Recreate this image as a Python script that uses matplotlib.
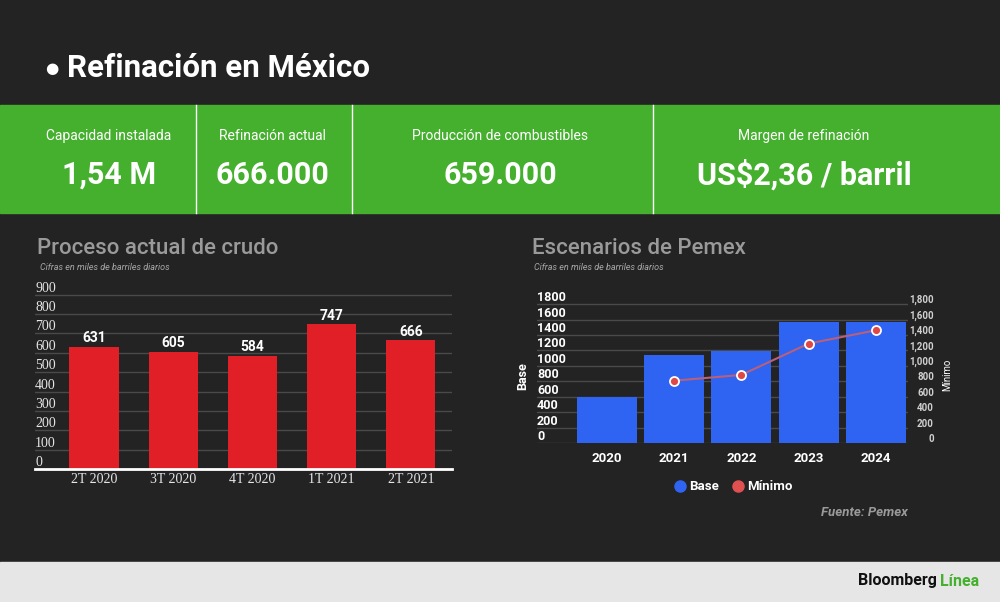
import matplotlib
matplotlib.use("Agg")
import matplotlib.pyplot as plt
from matplotlib.lines import Line2D

# Data
kpi_labels = ["Capacidad instalada", "Refinación actual", "Producción de combustibles", "Margen de refinación"]
kpi_values = ["1,54 M", "666.000", "659.000", "US$2,36 / barril"]

crudo_cats = ["2T 2020", "3T 2020", "4T 2020", "1T 2021", "2T 2021"]
crudo_vals = [631, 605, 584, 747, 666]
crudo_ticks = [0, 100, 200, 300, 400, 500, 600, 700, 800, 900]

years = ["2020", "2021", "2022", "2023", "2024"]
base_vals = [600, 1138, 1198, 1569, 1569]
min_years = ["2021", "2022", "2023", "2024"]
min_vals = [741, 815, 1220, 1392]
pemex_ticks = [0, 200, 400, 600, 800, 1000, 1200, 1400, 1600, 1800]

# Colours
BG = "#232323"
GREEN = "#44b02d"
RED = "#e11f26"
BLUE = "#2f63f2"
GRID = "#4a4a4a"

plt.rcParams["font.family"] = ["Roboto", "DejaVu Sans"]

W, H = 1000, 602
fig = plt.figure(figsize=(W / 100, H / 100), dpi=100)
fig.patch.set_facecolor(BG)


def box(x0, y0, x1, y1):
    # pixel box (top-left origin) -> figure fraction rect
    return [x0 / W, 1 - y1 / H, (x1 - x0) / W, (y1 - y0) / H]


def fx(x):
    return x / W


def fy(y):
    return 1 - y / H


# Header
fig.text(fx(52), fy(69), "●", color="white", fontsize=11, ha="center", va="center")
fig.text(fx(67), fy(68), "Refinación en México", color="white", fontsize=22.5,
         fontweight="bold", ha="left", va="center")

# Green KPI band
fig.patches.append(plt.Rectangle((0, fy(213)), 1, (213 - 105) / H, transform=fig.transFigure,
                                 color=GREEN, zorder=0))
for xd in [196, 352, 653]:
    fig.lines.append(Line2D([fx(xd), fx(xd)], [fy(213), fy(105)], transform=fig.transFigure,
                            color="white", lw=1))
kpi_x = [109, 272, 500, 804]
for x, lab, val in zip(kpi_x, kpi_labels, kpi_values):
    fig.text(fx(x), fy(136), lab, color="white", fontsize=10, ha="center", va="center")
    fig.text(fx(x), fy(175), val, color="white", fontsize=22, fontweight="bold",
             ha="center", va="center")

# Bottom band
fig.patches.append(plt.Rectangle((0, 0), 1, (602 - 562) / H, transform=fig.transFigure,
                                 color="#e6e6e6", zorder=0))
fig.text(fx(937), fy(581), "Bloomberg", color="#111111", fontsize=11.5, fontweight="bold",
         ha="right", va="center")
fig.text(fx(940), fy(581), "Línea", color=GREEN, fontsize=11.5, fontweight="bold",
         ha="left", va="center")

# ---------------- Left chart: Proceso actual de crudo ----------------
fig.text(fx(37), fy(249), "Proceso actual de crudo", color="#9a9a9a", fontsize=16,
         fontweight="medium", ha="left", va="center")
fig.text(fx(40), fy(267), "Cifras en miles de barriles diarios", color="#a8a8a8",
         fontsize=6.5, style="italic", ha="left", va="center")

ax1 = fig.add_axes(box(35, 285, 452, 469))
ax1.set_facecolor("none")
x1 = list(range(len(crudo_cats)))
bars = ax1.bar(x1, crudo_vals, width=0.62, color=RED, zorder=2)
ax1.bar_label(bars, labels=[str(v) for v in crudo_vals], padding=1, color="white",
              fontsize=10, fontweight="bold")
ax1.set_xlim(-0.745, 4.52)
ax1.set_ylim(0, 950)
ax1.set_yticks(crudo_ticks)
ax1.set_xticks(x1)
ax1.set_xticklabels(crudo_cats, family="Liberation Serif", fontsize=10, color="#e6e6e6")
ax1.set_yticklabels([str(t) for t in crudo_ticks], family="Liberation Serif", fontsize=10,
                    color="#e6e6e6")
ax1.tick_params(axis="y", length=0, pad=0)
ax1.tick_params(axis="x", length=0, pad=3)
for lbl in ax1.get_yticklabels():
    lbl.set_ha("left")
    lbl.set_va("bottom")
ax1.grid(axis="y", color=GRID, lw=1, zorder=0)
for s in ["top", "right", "left"]:
    ax1.spines[s].set_visible(False)
ax1.spines["bottom"].set_color("white")
ax1.spines["bottom"].set_linewidth(2)
ax1.spines["bottom"].set_zorder(3)

# ---------------- Right chart: Escenarios de Pemex ----------------
fig.text(fx(532), fy(249), "Escenarios de Pemex", color="#9a9a9a", fontsize=16,
         fontweight="medium", ha="left", va="center")
fig.text(fx(534), fy(267), "Cifras en miles de barriles diarios", color="#a8a8a8",
         fontsize=6.5, style="italic", ha="left", va="center")

ax2 = fig.add_axes(box(537, 296.3, 908, 443.3))
ax2.set_facecolor("none")
x2 = list(range(len(years)))
ax2.bar(x2, base_vals, width=0.893, color=BLUE, zorder=2)
ax2.set_xlim(-1.04, 4.48)
ax2.set_ylim(0, 1900)
ax2.set_yticks(pemex_ticks)
ax2.set_yticklabels([str(t) for t in pemex_ticks], fontsize=9, fontweight="bold", color="white")
ax2.tick_params(axis="y", length=0, pad=0)
for lbl in ax2.get_yticklabels():
    lbl.set_ha("left")
    lbl.set_va("bottom")
ax2.set_xticks(x2)
ax2.set_xticklabels(years, fontsize=9.5, fontweight="bold", color="white")
ax2.tick_params(axis="x", length=0, pad=6)
ax2.grid(axis="y", color=GRID, lw=1, zorder=0)
for s in ax2.spines.values():
    s.set_visible(False)

ax2r = ax2.twinx()
ax2r.set_ylim(-68.5, 1831.5)
min_x = [years.index(y) for y in min_years]
ax2r.plot(min_x, min_vals, color="#b8607a", lw=1.5, zorder=3)
ax2r.plot(min_x, min_vals, "o", color="#e04848", markeredgecolor="white",
          markeredgewidth=1.3, markersize=6.5, zorder=4)
ax2r.set_yticks(pemex_ticks)
ax2r.set_yticklabels([f"{t:,}" for t in pemex_ticks], fontsize=7, fontweight="bold",
                     color="#d0d0d0")
ax2r.tick_params(axis="y", length=0, pad=18.7)
for lbl in ax2r.get_yticklabels():
    lbl.set_ha("right")
for s in ax2r.spines.values():
    s.set_visible(False)

fig.text(fx(523), fy(376), "Base", color="white", fontsize=9, fontweight="bold",
         rotation=90, ha="center", va="center")
fig.text(fx(947), fy(375), "Mínimo", color="white", fontsize=7, rotation=90,
         ha="center", va="center")

handles = [Line2D([], [], ls="none", marker="o", color=BLUE, markersize=8),
           Line2D([], [], ls="none", marker="o", color="#e05050", markersize=8)]
leg = fig.legend(handles, ["Base", "Mínimo"], loc="center", bbox_to_anchor=(fx(733), fy(487)),
                 ncol=2, frameon=False, handletextpad=0.2, columnspacing=0.9,
                 handlelength=1.0, prop={"size": 9.5, "weight": "bold"})
for t in leg.get_texts():
    t.set_color("white")

fig.text(fx(908), fy(512), "Fuente: Pemex", color="#9a9a9a", fontsize=9.5, style="italic",
         fontweight="bold", ha="right", va="center")

fig.savefig("out.png", dpi=100, facecolor=BG)
